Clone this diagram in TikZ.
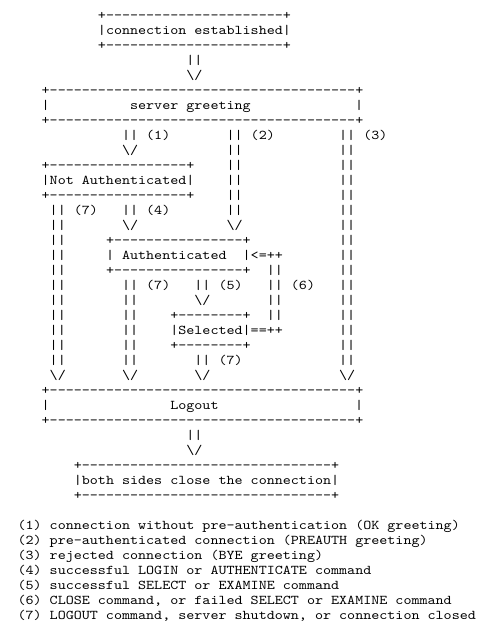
\documentclass[tikz,border=0pt]{standalone}
\usepackage{fontspec}
\setmonofont{lmmono10-regular.otf}[FakeStretch=1.143]
\newcommand\asciirule[1]{+\foreach\k in {1,...,#1}{-}+}
\newcommand\tip{\textbackslash/}
\begin{document}
\begin{tikzpicture}[x=8.04pt,y={(0pt,-15pt)},
	ascii/.style={anchor=base west,inner sep=0pt,outer sep=0pt,
		font=\fontsize{13.4}{15}\selectfont\ttfamily}]
		\useasboundingbox (6.816,-1.3) rectangle (69.13,41.5);
		% connection established
		\node[ascii] (est-top) at (19,0) {\asciirule{22}};
		\node[ascii] (est) at (19,1) {|connection established|};
		\node[ascii] (est-bot) at (19,2) {\asciirule{22}};
		\node[ascii] (a0) at (30,3) {||};
		\node[ascii] (a0-tip) at (30,4) {\tip};
		% server greeting
		\node[ascii] (greet-top) at (12,5) {\asciirule{38}};
		\node[ascii] (greet-l) at (12,6) {|};
		\node[ascii] (greet) at (23,6) {server greeting};
		\node[ascii] (greet-r) at (51,6) {|};
		\node[ascii] (greet-bot) at (12,7) {\asciirule{38}};
		% (1)
		\node[ascii] (a1) at (22,8) {||};
		\node[ascii] (l1) at (25,8) {(1)};
		\node[ascii] (a1-tip) at (22,9) {\tip};
		% (2)
		\foreach \r in {8,...,13} \node[ascii] (a2-\r) at (35,\r) {||};
		\node[ascii] (l2) at (38,8) {(2)};
		\node[ascii] (a2-tip) at (35,14) {\tip};
		% (3)
		\foreach \r in {8,...,23} \node[ascii] (a3-\r) at (49,\r) {||};
		\node[ascii] (l3) at (52,8) {(3)};
		\node[ascii] (a3-tip) at (49,24) {\tip};
		% not authenticated
		\node[ascii] (nauth-top) at (12,10) {\asciirule{17}};
		\node[ascii] (nauth) at (12,11) {|Not Authenticated|};
		\node[ascii] (nauth-bot) at (12,12) {\asciirule{17}};
		\foreach \r in {13,...,23} \node[ascii] (a7n-\r) at (13,\r) {||};
		\node[ascii] (l7n) at (16,13) {(7)};
		\node[ascii] (a7n-tip) at (13,24) {\tip};
		% (4)
		\node[ascii] (a4) at (22,13) {||};
		\node[ascii] (l4) at (25,13) {(4)};
		\node[ascii] (a4-tip) at (22,14) {\tip};
		% authenticated
		\node[ascii] (auth-top) at (20,15) {\asciirule{16}};
		\node[ascii] (auth-l) at (20,16) {|};
		\node[ascii] (auth) at (22,16) {Authenticated};
		\node[ascii] (auth-r) at (37,16) {|<=++};
		\node[ascii] (auth-bot) at (20,17) {\asciirule{16}};
		% (6)
		\foreach \r in {17,...,20} \node[ascii] (a6-\r) at (40,\r) {||};
		\node[ascii] (l6) at (43,18) {(6)};
		% (7) from authenticated
		\foreach \r in {18,...,23} \node[ascii] (a7a-\r) at (22,\r) {||};
		\node[ascii] (l7a) at (25,18) {(7)};
		\node[ascii] (a7a-tip) at (22,24) {\tip};
		% (5)
		\node[ascii] (a5) at (31,18) {||};
		\node[ascii] (l5) at (34,18) {(5)};
		\node[ascii] (a5-tip) at (31,19) {\tip};
		% selected
		\node[ascii] (sel-top) at (28,20) {\asciirule{8}};
		\node[ascii] (sel) at (28,21) {|Selected|==++};
		\node[ascii] (sel-bot) at (28,22) {\asciirule{8}};
		\node[ascii] (a7s) at (31,23) {||};
		\node[ascii] (l7s) at (34,23) {(7)};
		\node[ascii] (a7s-tip) at (31,24) {\tip};
		% logout
		\node[ascii] (out-top) at (12,25) {\asciirule{38}};
		\node[ascii] (out-l) at (12,26) {|};
		\node[ascii] (out) at (28,26) {Logout};
		\node[ascii] (out-r) at (51,26) {|};
		\node[ascii] (out-bot) at (12,27) {\asciirule{38}};
		\node[ascii] (a8) at (30,28) {||};
		\node[ascii] (a8-tip) at (30,29) {\tip};
		% both sides close
		\node[ascii] (close-top) at (16,30) {\asciirule{31}};
		\node[ascii] (close) at (16,31) {|both sides close the connection|};
		\node[ascii] (close-bot) at (16,32) {\asciirule{31}};
		% legend
		\node[ascii] (n1) at (9,34) {(1) connection without pre-authentication (OK greeting)};
		\node[ascii] (n2) at (9,35) {(2) pre-authenticated connection (PREAUTH greeting)};
		\node[ascii] (n3) at (9,36) {(3) rejected connection (BYE greeting)};
		\node[ascii] (n4) at (9,37) {(4) successful LOGIN or AUTHENTICATE command};
		\node[ascii] (n5) at (9,38) {(5) successful SELECT or EXAMINE command};
		\node[ascii] (n6) at (9,39) {(6) CLOSE command, or failed SELECT or EXAMINE command};
		\node[ascii] (n7) at (9,40) {(7) LOGOUT command, server shutdown, or connection closed};
\end{tikzpicture}
\end{document}
